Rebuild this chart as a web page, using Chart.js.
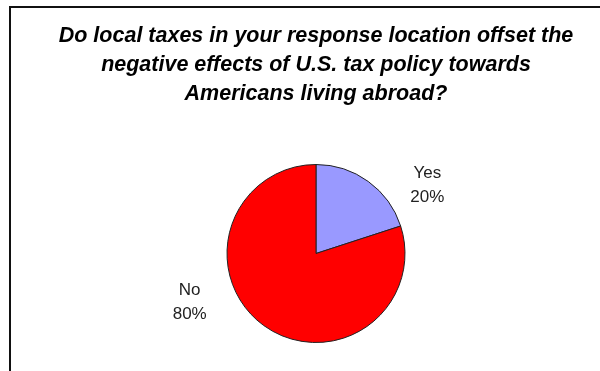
<!DOCTYPE html>
<html>
<head>
<meta charset="utf-8">
<script src="https://cdn.jsdelivr.net/npm/chart.js@4/dist/chart.umd.min.js"></script>
<style>
  html, body { margin: 0; padding: 0; background: #fff; overflow: hidden; }
  #wrap { position: relative; width: 600px; height: 371px; }
  #frame { position: absolute; left: 9px; top: 6px; width: 640px; height: 420px; border: 2px solid #111; box-sizing: border-box; }
  #c { position: absolute; left: 0; top: 0; }
</style>
</head>
<body>
<div id="wrap">
  <div id="frame"></div>
  <canvas id="c" width="600" height="371"></canvas>
</div>
<script>
const titleLines = [
  "Do local taxes in your response location offset the",
  "negative effects of U.S. tax policy towards",
  "Americans living abroad?"
];
const categories = ["Yes", "No"];
const values = [20, 80];
const colors = ["#9999FF", "#FF0000"];
// label offsets (style) relative to the slice edge at its mid angle
const labelOffsets = [[59, 4], [-74, -23]];

const labelPlugin = {
  id: 'sliceLabels',
  afterDatasetsDraw(chart) {
    const ctx = chart.ctx;
    const meta = chart.getDatasetMeta(0);
    const total = values.reduce((a, b) => a + b, 0);
    ctx.save();
    ctx.font = '17px "Liberation Sans", Arial, sans-serif';
    ctx.fillStyle = '#222';
    ctx.textAlign = 'center';
    ctx.textBaseline = 'middle';
    meta.data.forEach((arc, i) => {
      const p = arc.getProps(['x', 'y', 'startAngle', 'endAngle', 'outerRadius'], true);
      const mid = (p.startAngle + p.endAngle) / 2;
      const ex = p.x + Math.cos(mid) * p.outerRadius;
      const ey = p.y + Math.sin(mid) * p.outerRadius;
      const lx = ex + labelOffsets[i][0];
      const ly = ey + labelOffsets[i][1];
      const pct = Math.round(values[i] / total * 100) + '%';
      ctx.fillText(categories[i], lx, ly - 12);
      ctx.fillText(pct, lx, ly + 12);
    });
    ctx.restore();
  }
};

new Chart(document.getElementById('c'), {
  type: 'pie',
  data: {
    labels: categories,
    datasets: [{
      data: values,
      backgroundColor: colors,
      borderColor: '#222',
      borderWidth: 1
    }]
  },
  options: {
    responsive: false,
    animation: false,
    layout: { padding: { left: 32, right: 0, top: 0, bottom: 28 } },
    plugins: {
      legend: { display: false },
      tooltip: { enabled: false },
      title: {
        display: true,
        text: titleLines,
        color: '#000',
        font: { family: '"Liberation Sans", Arial, sans-serif', size: 21.5, weight: 'bold', style: 'italic', lineHeight: 1.349 },
        padding: { top: 21.5, bottom: 55.5 }
      }
    }
  },
  plugins: [labelPlugin]
});
</script>
</body>
</html>
